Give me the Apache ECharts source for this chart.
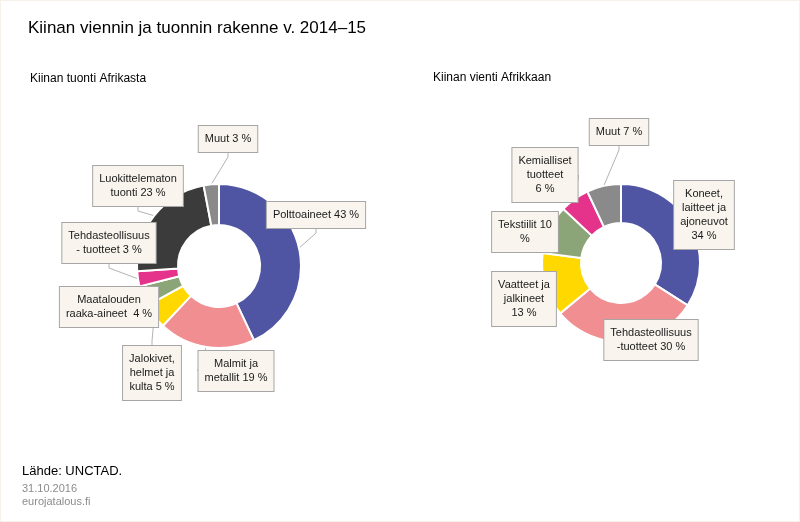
<!DOCTYPE html>
<html>
<head>
<meta charset="utf-8">
<script src="https://cdn.jsdelivr.net/npm/echarts@6/dist/echarts.min.js"></script>
<style>
  html, body { margin: 0; padding: 0; background: #fff; }
  #chart { width: 800px; height: 522px; box-sizing: border-box; border: 1px solid #f6f1ea; }
</style>
</head>
<body>
<div id="chart"></div>
<script>
// Kiinan tuonti Afrikasta
const importNames = ['Polttoaineet', 'Malmit ja metallit', 'Jalokivet, helmet ja kulta', 'Maatalouden raaka-aineet', 'Tehdasteollisuustuotteet', 'Luokittelematon tuonti', 'Muut']
const importValues = [43, 19, 5, 4, 3, 23, 3]
const importLabels = [
  'Polttoaineet {c} %',
  'Malmit ja\nmetallit {c} %',
  'Jalokivet,\nhelmet ja\nkulta {c} %',
  'Maatalouden\nraaka-aineet  {c} %',
  'Tehdasteollisuus\n- tuotteet {c} %',
  'Luokittelematon\ntuonti {c} %',
  'Muut {c} %'
]
const importColors = ['#4f55a3', '#f08e92', '#ffd800', '#8ba478', '#e5338b', '#3b3b3b', '#8a8a8a']

// Kiinan vienti Afrikkaan
const exportNames = ['Koneet, laitteet ja ajoneuvot', 'Tehdasteollisuustuotteet', 'Vaatteet ja jalkineet', 'Tekstiilit', 'Kemialliset tuotteet', 'Muut']
const exportValues = [34, 30, 13, 10, 6, 7]
const exportLabels = [
  'Koneet,\nlaitteet ja\najoneuvot\n{c} %',
  'Tehdasteollisuus\n-tuotteet {c} %',
  'Vaatteet ja\njalkineet\n{c} %',
  'Tekstiilit {c}\n%',
  'Kemialliset\ntuotteet\n{c} %',
  'Muut {c} %'
]
const exportColors = ['#4f55a3', '#f08e92', '#ffd800', '#8ba478', '#e5338b', '#8a8a8a']

// callout box centres (px)
const importLabelPos = [[315, 214], [235, 370], [151, 372], [108, 306], [108, 242], [137, 185], [227, 138]]
const exportLabelPos = [[703, 214], [650, 339], [523, 298], [524, 231], [544, 174], [618, 131]]

const FONT = 'Liberation Sans, Arial, sans-serif'

function buildData(names, values, labels, colors) {
  return names.map((n, i) => ({
    name: n,
    value: values[i],
    itemStyle: { color: colors[i] },
    label: { formatter: labels[i] }
  }))
}

function donut(center, radius, data, pos) {
  return {
    type: 'pie',
    center: center,
    radius: radius,
    startAngle: 90,
    clockwise: true,
    avoidLabelOverlap: false,
    animation: false,
    itemStyle: { borderColor: '#fff', borderWidth: 2 },
    label: {
      show: true,
      position: 'outside',
      color: '#1a1a1a',
      fontFamily: FONT,
      fontSize: 11,
      lineHeight: 14,
      align: 'center',
      backgroundColor: '#f9f5ee',
      borderColor: '#a6a6a6',
      borderWidth: 1,
      padding: [6, 6]
    },
    labelLine: {
      show: true,
      length: 4,
      length2: 4,
      lineStyle: { color: '#b3b3b3', width: 1 }
    },
    labelLayout: function (p) {
      const xy = pos[p.dataIndex]
      return { x: xy[0], y: xy[1], align: 'center', verticalAlign: 'middle' }
    },
    emphasis: { disabled: true },
    data: data
  }
}

const chart = echarts.init(document.getElementById('chart'))
chart.setOption({
  backgroundColor: '#fff',
  title: [
    { text: 'Kiinan viennin ja tuonnin rakenne v. 2014–15', left: 22, top: 14,
      textStyle: { fontFamily: FONT, fontSize: 17, fontWeight: 'normal', color: '#000' } },
    { text: 'Kiinan tuonti Afrikasta', left: 24, top: 67,
      textStyle: { fontFamily: FONT, fontSize: 12, fontWeight: 'normal', color: '#000' } },
    { text: 'Kiinan vienti Afrikkaan', left: 427, top: 66,
      textStyle: { fontFamily: FONT, fontSize: 12, fontWeight: 'normal', color: '#000' } },
    { text: 'Lähde: UNCTAD.', left: 16, top: 459,
      textStyle: { fontFamily: FONT, fontSize: 13, fontWeight: 'normal', color: '#000' } },
    { text: '31.10.2016', left: 16, top: 477,
      textStyle: { fontFamily: FONT, fontSize: 11, fontWeight: 'normal', color: '#8c8c8c' } },
    { text: 'eurojatalous.fi', left: 16, top: 490,
      textStyle: { fontFamily: FONT, fontSize: 11, fontWeight: 'normal', color: '#8c8c8c' } }
  ],
  series: [
    donut([218, 265], [41, 82], buildData(importNames, importValues, importLabels, importColors), importLabelPos),
    donut([620, 262], [40, 79], buildData(exportNames, exportValues, exportLabels, exportColors), exportLabelPos)
  ]
})
</script>
</body>
</html>
